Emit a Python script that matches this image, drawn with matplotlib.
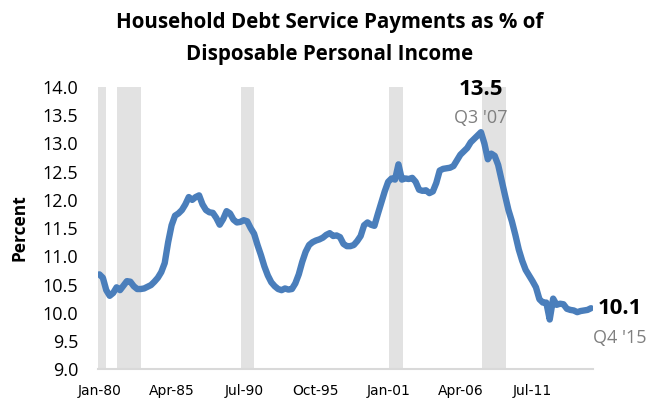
import matplotlib
matplotlib.use("Agg")
import matplotlib.pyplot as plt
import numpy as np

# Quarterly household debt service ratio, 1980Q1 .. 2015Q4
values = [
    10.68, 10.62, 10.40, 10.30, 10.35, 10.45, 10.40, 10.48, 10.56, 10.55,
    10.47, 10.42, 10.42, 10.43, 10.46, 10.49, 10.55, 10.62, 10.72, 10.88,
    11.25, 11.55, 11.72, 11.76, 11.82, 11.92, 12.05, 12.00, 12.05, 12.08,
    11.92, 11.82, 11.78, 11.77, 11.68, 11.56, 11.66, 11.80, 11.76, 11.65,
    11.60, 11.61, 11.64, 11.62, 11.50, 11.40, 11.20, 11.02, 10.82, 10.66,
    10.54, 10.47, 10.42, 10.40, 10.43, 10.41, 10.42, 10.52, 10.68, 10.90,
    11.08, 11.20, 11.25, 11.28, 11.30, 11.33, 11.38, 11.41, 11.36, 11.37,
    11.34, 11.22, 11.18, 11.18, 11.20, 11.27, 11.36, 11.55, 11.60, 11.56,
    11.54, 11.75, 11.95, 12.15, 12.32, 12.38, 12.36, 12.63, 12.36, 12.38,
    12.37, 12.39, 12.32, 12.18, 12.16, 12.17, 12.12, 12.15, 12.30, 12.52,
    12.55, 12.56, 12.57, 12.60, 12.70, 12.80, 12.86, 12.92, 13.02, 13.08,
    13.14, 13.20, 13.00, 12.72, 12.82, 12.78, 12.62, 12.35, 12.08, 11.82,
    11.62, 11.38, 11.12, 10.92, 10.76, 10.66, 10.56, 10.45, 10.24, 10.18,
    10.18, 9.88, 10.25, 10.14, 10.16, 10.15, 10.07, 10.05, 10.04, 10.01,
    10.03, 10.04, 10.05, 10.08,
]
tick_labels = ["Jan-80", "Apr-85", "Jul-90", "Oct-95", "Jan-01", "Apr-06", "Jul-11"]
tick_positions = [0, 21, 42, 63, 84, 105, 126]
# recession spans in quarter-index units (start, end)
recessions = [(-0.5, 1.8), (5.0, 12.0), (41.1, 44.9), (84.2, 88.3), (111.3, 118.2)]
y_ticks = [9.0, 9.5, 10.0, 10.5, 11.0, 11.5, 12.0, 12.5, 13.0, 13.5, 14.0]

fig = plt.figure(figsize=(6.6, 4.03), dpi=100)
ax = fig.add_axes([0.148, 0.084, 0.750, 0.700])

for s, e in recessions:
    ax.axvspan(s, e, facecolor="#e2e2e2", edgecolor="none", zorder=1)

x = np.arange(len(values))
ax.plot(x, values, color="#4a7ebb", lw=4.6, solid_joinstyle="round",
        solid_capstyle="round", zorder=3)

ax.set_xlim(-0.5, len(values) - 0.5)
ax.set_ylim(9.0, 14.0)
ax.set_yticks(y_ticks)
ax.set_yticklabels([f"{v:.1f}" for v in y_ticks], fontsize=13, family="Open Sans")
ax.set_xticks(tick_positions)
ax.set_xticklabels(tick_labels, fontsize=10, family=["Liberation Sans Narrow", "DejaVu Sans"])
ax.tick_params(axis="both", length=0)
ax.tick_params(axis="y", pad=14)
ax.tick_params(axis="x", pad=11)

for sp in ["top", "right", "left"]:
    ax.spines[sp].set_visible(False)
ax.spines["bottom"].set_color("#d9d9d9")
ax.spines["bottom"].set_linewidth(1.5)

ax.set_ylabel("Percent", fontsize=12.5, fontweight="bold", family="Open Sans", labelpad=10)

fig.text(0.5, 0.905, "Household Debt Service Payments as % of\nDisposable Personal Income",
         ha="center", va="center", fontsize=14.8, fontweight="bold", family="Open Sans",
         linespacing=1.7)

ax.text(111, 13.95, "13.5", ha="center", va="center", fontsize=16, fontweight="bold",
        family="Open Sans", clip_on=False)
ax.text(111, 13.45, "Q3 '07", ha="center", va="center", fontsize=13, color="#7f7f7f",
        family="Open Sans", clip_on=False)
ax.text(151.4, 10.08, "10.1", ha="center", va="center", fontsize=16, fontweight="bold",
        family="Open Sans", clip_on=False)
ax.text(151.4, 9.55, "Q4 '15", ha="center", va="center", fontsize=13, color="#7f7f7f",
        family="Open Sans", clip_on=False)

fig.savefig("out.png", dpi=100)
